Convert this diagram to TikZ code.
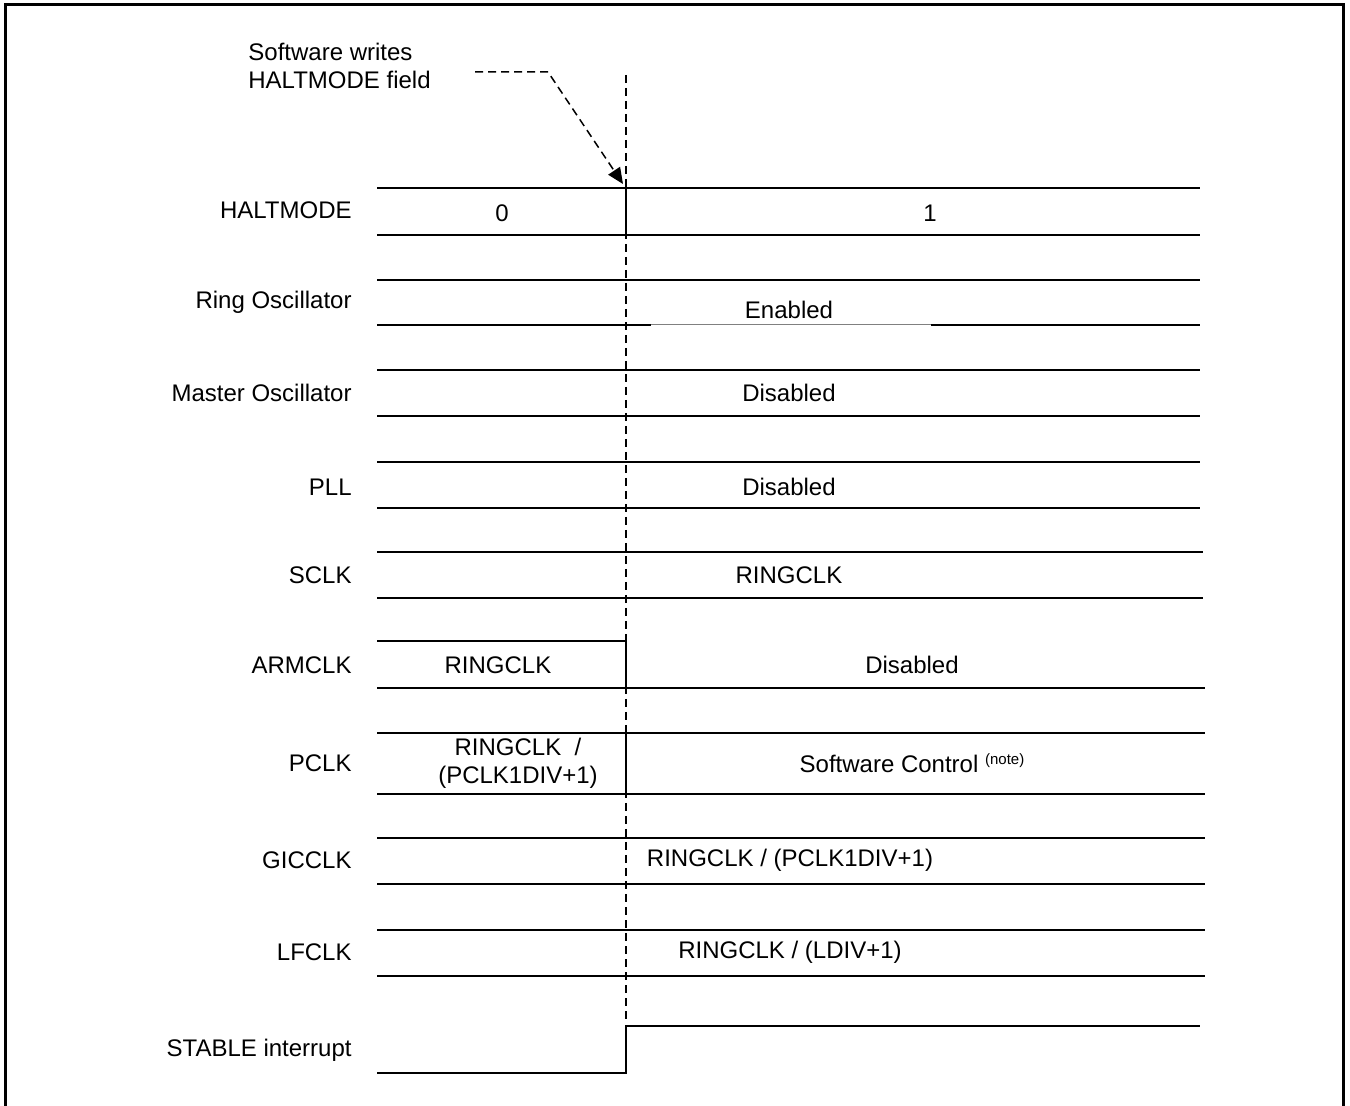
\documentclass[tikz,border=0pt]{standalone}
\usepackage{fontspec}
\setmainfont{Liberation Sans}
\usetikzlibrary{arrows.meta}

\begin{document}
\begin{tikzpicture}[x=0.5pt,y=-0.5pt,
 wave/.style={line width=1pt},
 lbl/.style={anchor=east,inner sep=0pt,font=\fontsize{12}{14}\selectfont},
 val/.style={inner sep=0pt,font=\fontsize{12}{14}\selectfont,align=center},
 markline/.style={line width=0.75pt,dash pattern=on 4pt off 2.5pt}]
\useasboundingbox (0,0) rectangle (1350,1106);
\draw[line width=1.5pt] (5,1106) -- (5,5) -- (1343,5) -- (1343,1106);

\node[val,anchor=west,align=left] (note) at (248,66) {Software writes\\HALTMODE field};
\coordinate (mktop) at (626,75);
\coordinate (mkbot) at (626,1020);
\coordinate (wr) at (475,72);
\coordinate (wrbend) at (548,72);
\coordinate (wrend) at (623,184);
\draw[markline] (mktop) -- (mkbot);
\draw[markline,-{Triangle[length=8pt,width=7pt]}] (wr) -- (wrbend) -- (wrend);

\node[lbl] (haltmode) at (352,210) {HALTMODE};
\node[lbl] (ringosc) at (352,302) {Ring Oscillator};
\node[lbl] (mainosc) at (352,393) {Master Oscillator};
\node[lbl] (pll) at (352,487) {PLL};
\node[lbl] (sclk) at (352,575) {SCLK};
\node[lbl] (armclk) at (352,665) {ARMCLK};
\node[lbl] (pclk) at (352,763) {PCLK};
\node[lbl] (gicclk) at (352,860) {GICCLK};
\node[lbl] (lfclk) at (352,952) {LFCLK};
\node[lbl] (stable) at (352,1050) {STABLE interrupt};

\foreach \t/\b/\e in {188/235/1200,370/416/1200,462/508/1200,552/598/1203,733/794/1205,838/884/1205,930/976/1205}
  \draw[wave] (377,\t) -- (\e,\t) (377,\b) -- (\e,\b);
\draw[wave] (626,188) -- (626,235) (626,733) -- (626,794);
\draw[wave] (377,280) -- (1200,280) (377,325) -- (651,325) (931,325) -- (1200,325);
\draw[gray,line width=0.5pt] (651,325) -- (931,325);
\draw[wave] (377,641) -- (626,641) -- (626,688) (377,688) -- (1205,688);
\draw[wave] (377,1073) -- (626,1073) -- (626,1026) -- (1200,1026);

\node[val] (hm0) at (502,213) {0};
\node[val] (hm1) at (930,213) {1};
\node[val] (roen) at (789,310) {Enabled};
\node[val] (mooff) at (789,393) {Disabled};
\node[val] (plloff) at (789,487) {Disabled};
\node[val] (sclkring) at (789,575) {RINGCLK};
\node[val] (armring) at (498,665) {RINGCLK};
\node[val] (armoff) at (912,665) {Disabled};
\node[val] (pclkdiv) at (518,763) {RINGCLK \ /\\(PCLK1DIV+1)};
\node[val] (pclksw) at (912,763) {Software Control \raisebox{0.6ex}{\fontsize{7.5}{9}\selectfont(note)}};
\node[val] (gicdiv) at (790,860) {RINGCLK / (PCLK1DIV+1)};
\node[val] (lfdiv) at (790,952) {RINGCLK / (LDIV+1)};
\end{tikzpicture}
\end{document}
